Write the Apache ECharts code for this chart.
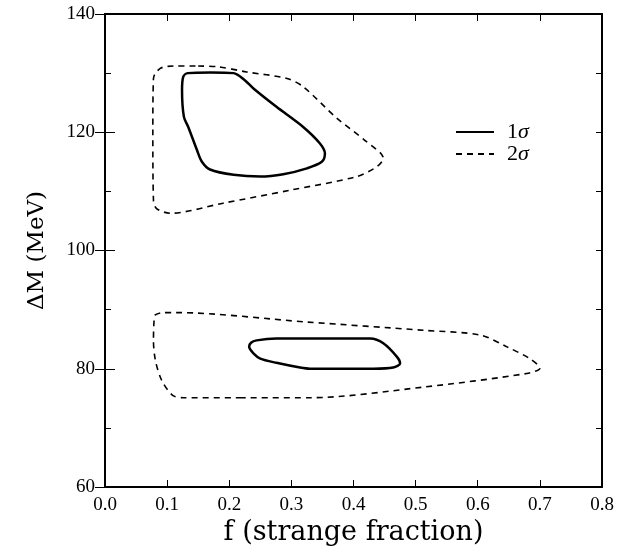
<!DOCTYPE html>
<html>
<head>
<meta charset="utf-8">
<script src="https://cdn.jsdelivr.net/npm/echarts@6/dist/echarts.min.js"></script>
<style>
  html, body { margin: 0; padding: 0; background: #fff; }
  #chart { width: 617px; height: 556px; }
</style>
</head>
<body>
<div id="chart"></div>
<script>
// contour points [f, deltaM]; null splits the two islands
// each loop starts on a flat stretch so the closing joint does not make a corner
const sigma1Upper = [
  [0.170, 130.1], [0.207, 130.0], [0.225, 128.8], [0.239, 127.4], [0.276, 124.3],
  [0.319, 120.9], [0.346, 118.1], [0.354, 116.4], [0.349, 115.0], [0.325, 113.9],
  [0.287, 112.9], [0.250, 112.5], [0.207, 112.8], [0.169, 113.7], [0.156, 115.0],
  [0.148, 117.0], [0.134, 120.9], [0.127, 122.6], [0.124, 127.1], [0.126, 129.4],
  [0.133, 130.0], [0.170, 130.1]
];
const sigma1Lower = [
  [0.380, 80.0], [0.330, 80.0], [0.314, 80.2], [0.276, 81.0], [0.250, 81.7],
  [0.239, 82.6], [0.232, 83.7], [0.235, 84.4], [0.244, 84.8], [0.276, 85.1],
  [0.427, 85.1], [0.448, 84.3], [0.470, 82.0], [0.475, 80.9], [0.464, 80.2],
  [0.432, 80.0], [0.380, 80.0]
];
const sigma2Upper = [
  [0.150, 131.2], [0.180, 131.1], [0.228, 130.2], [0.293, 129.1], [0.319, 127.7],
  [0.373, 122.4], [0.421, 118.4], [0.448, 115.6], [0.438, 114.2], [0.405, 112.5],
  [0.298, 110.2], [0.190, 108.0], [0.105, 106.3], [0.083, 107.1], [0.078, 108.5],
  [0.077, 119.9], [0.078, 129.1], [0.089, 130.8], [0.110, 131.2], [0.150, 131.2]
];
const sigma2Lower = [
  [0.220, 75.1], [0.126, 75.1], [0.109, 75.5], [0.091, 78.1], [0.081, 81.5],
  [0.078, 84.8], [0.079, 88.2], [0.081, 89.1], [0.094, 89.5], [0.115, 89.5],
  [0.325, 87.9], [0.513, 86.5], [0.604, 85.7], [0.647, 83.7], [0.684, 81.7],
  [0.700, 80.1], [0.679, 79.2], [0.513, 76.9], [0.330, 75.1], [0.220, 75.1]
];
const legendNames = ['1σ', '2σ'];

const serif = 'Liberation Serif';
const chart = echarts.init(document.getElementById('chart'));

const axisLine = { show: true, lineStyle: { color: '#000', width: 2 } };
const noLabel = { show: false };
const noSplit = { show: false };

// x axes: bottom with labels, top mirror; y axes: major (20) and minor (10) ticks both sides
const xBase = { type: 'value', min: 0, max: 0.8, interval: 0.1, axisLine, splitLine: noSplit,
  axisTick: { inside: true, length: 7, lineStyle: { color: '#000' } } };
const yMajor = { type: 'value', min: 60, max: 140, interval: 20, axisLine, splitLine: noSplit,
  axisTick: { inside: true, length: 10, lineStyle: { color: '#000' } } };
const yMinor = { type: 'value', min: 60, max: 140, interval: 10, axisLine, splitLine: noSplit,
  axisTick: { inside: true, length: 6, lineStyle: { color: '#000' } }, axisLabel: noLabel };

const option = {
  backgroundColor: '#fff',
  animation: false,
  grid: { left: 105, right: 15, top: 14, bottom: 69 },
  legend: {
    data: legendNames,
    orient: 'vertical',
    left: 450,
    top: 116,
    itemWidth: 38,
    itemHeight: 14,
    itemGap: 0,
    itemStyle: { opacity: 0 },
    textStyle: {
      fontFamily: serif, fontSize: 22, color: '#000', lineHeight: 22, padding: [0, 0, 0, 8],
      rich: { s: { fontFamily: serif, fontStyle: 'italic', fontSize: 22 } }
    },
    formatter: n => n.charAt(0) + '{s|σ}'
  },
  xAxis: [Object.assign({}, xBase, {
    name: 'f (strange fraction)', nameLocation: 'middle', nameGap: 22,
    nameTextStyle: { fontFamily: 'DejaVu Serif', fontSize: 27, color: '#000' },
    axisLabel: { fontFamily: serif, fontSize: 19, color: '#000', margin: 9,
      formatter: v => v.toFixed(1) }
  }), Object.assign({}, xBase, { position: 'top', axisLabel: noLabel })],
  yAxis: [Object.assign({}, yMajor, {
    name: 'ΔM (MeV)', nameLocation: 'middle', nameGap: 56,
    nameTextStyle: { fontFamily: 'DejaVu Serif', fontSize: 23, color: '#000' },
    axisLabel: { fontFamily: serif, fontSize: 19, color: '#000', margin: 10 }
  }),
  Object.assign({}, yMajor, { position: 'right', axisLabel: noLabel }),
  Object.assign({}, yMinor, { position: 'left' }),
  Object.assign({}, yMinor, { position: 'right' })],
  series: [{
    name: '1σ', type: 'line', smooth: 0.3, symbol: 'none', connectNulls: false,
    data: sigma1Upper.concat([[null, null]], sigma1Lower),
    lineStyle: { color: '#000', width: 2.5 },
    itemStyle: { color: '#000' }
  }, {
    name: '2σ', type: 'line', smooth: 0.3, symbol: 'none', connectNulls: false,
    data: sigma2Upper.concat([[null, null]], sigma2Lower),
    lineStyle: { color: '#000', width: 1.6, type: [6, 5] },
    itemStyle: { color: '#000' }
  }]
};

chart.setOption(option);
</script>
</body>
</html>
